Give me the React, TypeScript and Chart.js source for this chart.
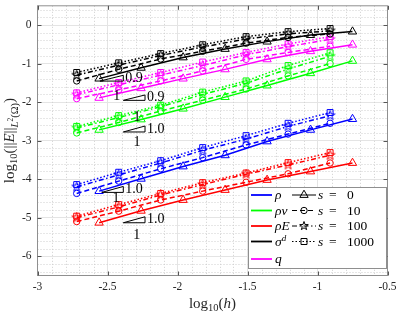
import React, { useEffect, useRef } from 'react';
import { Chart, registerables } from 'chart.js';

Chart.register(...registerables);

// log10(h) for the s = 10, 100, 1000 runs and for the s = 0 runs
const hCoarse = [-2.72, -2.42, -2.12, -1.82, -1.51, -1.21, -0.91];
const hS0 = [-2.56, -2.26, -1.96, -1.66, -1.36, -1.05, -0.75];

// rho
const rhoS0 = [-4.31, -3.99, -3.67, -3.38, -3.02, -2.72, -2.44];
const rhoS10 = [-4.37, -4.05, -3.73, -3.44, -3.11, -2.83, -2.55];
const rhoS100 = [-4.2, -3.89, -3.58, -3.25, -2.96, -2.63, -2.35];
const rhoS1000 = [-4.14, -3.82, -3.52, -3.18, -2.87, -2.55, -2.27];
// rho v
const rhovS0 = [-2.72, -2.45, -2.17, -1.87, -1.57, -1.25, -0.93];
const rhovS10 = [-2.8, -2.53, -2.23, -1.95, -1.66, -1.32, -1.0];
const rhovS100 = [-2.67, -2.4, -2.12, -1.8, -1.51, -1.14, -0.81];
const rhovS1000 = [-2.63, -2.35, -2.08, -1.74, -1.45, -1.05, -0.72];
// rho E
const rhoES0 = [-5.13, -4.82, -4.54, -4.28, -4.02, -3.8, -3.58];
const rhoES10 = [-5.1, -4.83, -4.54, -4.31, -4.08, -3.86, -3.58];
const rhoES100 = [-5.0, -4.72, -4.41, -4.14, -3.87, -3.63, -3.38];
const rhoES1000 = [-4.96, -4.66, -4.37, -4.09, -3.84, -3.57, -3.31];
// sigma^d
const sigS0 = [-1.39, -1.11, -0.84, -0.62, -0.43, -0.26, -0.17];
const sigS10 = [-1.45, -1.15, -0.88, -0.68, -0.47, -0.32, -0.23];
const sigS100 = [-1.3, -1.04, -0.79, -0.57, -0.36, -0.23, -0.15];
const sigS1000 = [-1.23, -0.98, -0.74, -0.51, -0.3, -0.17, -0.09];
// q
const qS0 = [-1.89, -1.64, -1.39, -1.15, -0.89, -0.68, -0.51];
const qS10 = [-1.91, -1.68, -1.45, -1.19, -0.89, -0.71, -0.55];
const qS100 = [-1.81, -1.55, -1.3, -1.05, -0.77, -0.56, -0.37];
const qS1000 = [-1.76, -1.49, -1.23, -0.96, -0.71, -0.49, -0.3];

const fieldNames = ['ρ', 'ρv', 'ρE', 'σ', 'q'];
const fieldColors = ['#0000ff', '#00ff00', '#ff0000', '#000000', '#ff00ff'];
const fieldSeries = [
  [rhoS0, rhoS10, rhoS100, rhoS1000],
  [rhovS0, rhovS10, rhovS100, rhovS1000],
  [rhoES0, rhoES10, rhoES100, rhoES1000],
  [sigS0, sigS10, sigS100, sigS1000],
  [qS0, qS10, qS100, qS1000],
];
const sLabels = ['0', '10', '100', '1000'];

const xTicks = [-3, -2.5, -2, -1.5, -1, -0.5];
const yTicks = [-6, -5, -4, -3, -2, -1, 0];

// slope triangles (anchor, run, rate) and "1" label spots
const slopeX0 = [-2.554, -2.387, -2.387, -2.541, -2.387];
const slopeY0 = [-1.454, -1.954, -2.775, -4.343, -5.131];
const slopeW = [0.167, 0.155, 0.155, 0.154, 0.155];
const slopeRate = [0.9, 0.9, 1.0, 1.0, 1.0];
const slopeText = ['0.9', '0.9', '1.0', '1.0', '1.0'];
const runX = [-2.434, -2.289, -2.289, -2.439, -2.291];
const runY = [-1.86, -2.39, -3.05, -4.49, -5.47];

const SERIF = "'Liberation Serif', 'Times New Roman', serif";

const sStyles = [
  { xs: hS0, style: 'triangle', radius: 4.8, dash: [] as number[] },
  { xs: hCoarse, style: 'circle', radius: 3.2, dash: [5, 3] },
  { xs: hCoarse, style: 'star', radius: 4.5, dash: [5, 2.5, 1.5, 2.5] },
  { xs: hCoarse, style: 'rect', radius: 4.2, dash: [1.5, 2] },
];

function makeStar(color: string) {
  const c = document.createElement('canvas');
  c.width = 11;
  c.height = 11;
  const g = c.getContext('2d')!;
  g.strokeStyle = color;
  g.lineWidth = 1;
  g.beginPath();
  for (let i = 0; i < 10; i++) {
    const r = i % 2 === 0 ? 5 : 2;
    const a = -Math.PI / 2 + (i * Math.PI) / 5;
    const px = 5.5 + r * Math.cos(a);
    const py = 5.5 + r * Math.sin(a);
    if (i === 0) g.moveTo(px, py);
    else g.lineTo(px, py);
  }
  g.closePath();
  g.stroke();
  return c;
}

type Seg = { t: string; size: number; italic?: boolean; dy?: number };
function segFont(s: Seg) {
  return `${s.italic ? 'italic ' : ''}${s.size}px ${SERIF}`;
}
function segsWidth(ctx: CanvasRenderingContext2D, segs: Seg[]) {
  let w = 0;
  for (const s of segs) {
    ctx.font = segFont(s);
    w += ctx.measureText(s.t).width;
  }
  return w;
}
function drawSegs(ctx: CanvasRenderingContext2D, segs: Seg[], x: number, baseline: number) {
  ctx.textAlign = 'left';
  ctx.textBaseline = 'alphabetic';
  for (const s of segs) {
    ctx.font = segFont(s);
    ctx.fillText(s.t, x, baseline + (s.dy || 0));
    x += ctx.measureText(s.t).width;
  }
}

function drawMarker(ctx: CanvasRenderingContext2D, style: string, x: number, y: number) {
  ctx.beginPath();
  if (style === 'triangle') {
    const r = 4.8;
    for (let i = 0; i < 3; i++) {
      const a = (i * 2 * Math.PI) / 3;
      const px = x + Math.sin(a) * r;
      const py = y - Math.cos(a) * r;
      if (i === 0) ctx.moveTo(px, py);
      else ctx.lineTo(px, py);
    }
    ctx.closePath();
  } else if (style === 'circle') {
    ctx.arc(x, y, 3.2, 0, Math.PI * 2);
  } else if (style === 'rect') {
    ctx.rect(x - 3, y - 3, 6, 6);
  } else {
    for (let i = 0; i < 10; i++) {
      const r = i % 2 === 0 ? 4.5 : 1.8;
      const a = -Math.PI / 2 + (i * Math.PI) / 5;
      const px = x + r * Math.cos(a);
      const py = y + r * Math.sin(a);
      if (i === 0) ctx.moveTo(px, py);
      else ctx.lineTo(px, py);
    }
    ctx.closePath();
  }
  ctx.stroke();
}

const decorPlugin = {
  id: 'decor',
  beforeDatasetsDraw(chart: any) {
    const { ctx, chartArea: a, scales } = chart;
    const xs = scales.x;
    const ys = scales.y;
    ctx.save();
    // minor grid
    ctx.strokeStyle = '#cfcfcf';
    ctx.lineWidth = 1;
    ctx.setLineDash([1, 2]);
    for (let k = -30; k <= -5; k++) {
      if (k % 5 === 0) continue;
      const px = Math.round(xs.getPixelForValue(k / 10)) + 0.5;
      ctx.beginPath();
      ctx.moveTo(px, a.top);
      ctx.lineTo(px, a.bottom);
      ctx.stroke();
    }
    for (let k = -32; k <= 2; k++) {
      if (k % 5 === 0) continue;
      const py = Math.round(ys.getPixelForValue(k / 5)) + 0.5;
      ctx.beginPath();
      ctx.moveTo(a.left, py);
      ctx.lineTo(a.right, py);
      ctx.stroke();
    }
    ctx.setLineDash([]);
    // box
    ctx.strokeStyle = '#8f8f8f';
    ctx.strokeRect(a.left, a.top, a.right - a.left, a.bottom - a.top);
    // inner ticks
    ctx.strokeStyle = '#555555';
    for (const v of xTicks) {
      const px = Math.round(xs.getPixelForValue(v)) + 0.5;
      ctx.beginPath();
      ctx.moveTo(px, a.bottom);
      ctx.lineTo(px, a.bottom - 4);
      ctx.moveTo(px, a.top);
      ctx.lineTo(px, a.top + 4);
      ctx.stroke();
    }
    for (const v of yTicks) {
      const py = Math.round(ys.getPixelForValue(v)) + 0.5;
      ctx.beginPath();
      ctx.moveTo(a.left, py);
      ctx.lineTo(a.left + 4, py);
      ctx.moveTo(a.right, py);
      ctx.lineTo(a.right - 4, py);
      ctx.stroke();
    }
    ctx.restore();
  },
  afterDraw(chart: any) {
    const { ctx, chartArea: a, scales } = chart;
    const xs = scales.x;
    const ys = scales.y;
    ctx.save();
    // slope triangles
    ctx.strokeStyle = '#000';
    ctx.fillStyle = '#000';
    ctx.lineWidth = 1;
    for (let i = 0; i < slopeX0.length; i++) {
      const px0 = xs.getPixelForValue(slopeX0[i]);
      const py0 = ys.getPixelForValue(slopeY0[i]);
      const px1 = xs.getPixelForValue(slopeX0[i] + slopeW[i]);
      const py1 = ys.getPixelForValue(slopeY0[i] + slopeRate[i] * slopeW[i]);
      ctx.beginPath();
      ctx.moveTo(px0, py0);
      ctx.lineTo(px1, py0);
      ctx.lineTo(px1, py1);
      ctx.closePath();
      ctx.stroke();
      ctx.font = `14px ${SERIF}`;
      ctx.textAlign = 'left';
      ctx.textBaseline = 'middle';
      ctx.fillText(slopeText[i], px1 + 2, (py0 + py1) / 2);
      ctx.textAlign = 'center';
      ctx.fillText('1', xs.getPixelForValue(runX[i]), ys.getPixelForValue(runY[i]));
    }
    // axis titles
    ctx.fillStyle = '#262626';
    const xt: Seg[] = [
      { t: 'log', size: 15 },
      { t: '10', size: 10.5, dy: 3 },
      { t: '(', size: 15 },
      { t: 'h', size: 15, italic: true },
      { t: ')', size: 15 },
    ];
    const cx = (a.left + a.right) / 2;
    drawSegs(ctx, xt, cx - segsWidth(ctx, xt) / 2, 308);
    const yt: Seg[] = [
      { t: 'log', size: 15 },
      { t: '10', size: 10.5, dy: 3 },
      { t: '(||', size: 15 },
      { t: 'E', size: 15, italic: true },
      { t: '||', size: 15 },
      { t: 'L', size: 10.5, italic: true, dy: 4 },
      { t: '2', size: 7.5, dy: -1 },
      { t: '(Ω)', size: 10.5, dy: 4 },
      { t: ')', size: 15 },
    ];
    ctx.save();
    ctx.translate(14, (a.top + a.bottom) / 2);
    ctx.rotate(-Math.PI / 2);
    drawSegs(ctx, yt, -segsWidth(ctx, yt) / 2, 0);
    ctx.restore();
    // legend
    const lx = 248.5;
    const ly = 187.5;
    const lw = 138;
    const lh = 81;
    ctx.fillStyle = '#ffffff';
    ctx.fillRect(lx, ly, lw, lh);
    ctx.strokeStyle = '#8f8f8f';
    ctx.lineWidth = 1;
    ctx.strokeRect(lx, ly, lw, lh);
    const rows = [195, 210.5, 226, 241.5, 259];
    for (let i = 0; i < fieldNames.length; i++) {
      const y = rows[i];
      ctx.strokeStyle = fieldColors[i];
      ctx.lineWidth = 1.8;
      ctx.beginPath();
      ctx.moveTo(251, y);
      ctx.lineTo(272, y);
      ctx.stroke();
      ctx.fillStyle = '#000';
      const segs: Seg[] = [{ t: fieldNames[i], size: 13.5, italic: true }];
      if (i === 3) segs.push({ t: 'd', size: 9, italic: true, dy: -5 });
      drawSegs(ctx, segs, 275, y + 4);
    }
    for (let j = 0; j < 4; j++) {
      const y = rows[j];
      ctx.strokeStyle = '#000';
      ctx.lineWidth = 1;
      ctx.setLineDash(sStyles[j].dash);
      ctx.beginPath();
      ctx.moveTo(292, y);
      ctx.lineTo(316, y);
      ctx.stroke();
      ctx.setLineDash([]);
      drawMarker(ctx, sStyles[j].style, 304, y);
      ctx.fillStyle = '#000';
      drawSegs(ctx, [{ t: 's', size: 13.5, italic: true }], 318, y + 4);
      drawSegs(ctx, [{ t: '=', size: 13.5 }], 329, y + 4);
      drawSegs(ctx, [{ t: sLabels[j], size: 13.5 }], 347, y + 4);
    }
    ctx.restore();
  },
};

export default function App() {
  const ref = useRef<HTMLCanvasElement>(null);
  useEffect(() => {
    const stars: Record<string, HTMLCanvasElement> = {};
    fieldColors.forEach((c) => (stars[c] = makeStar(c)));
    const datasets: any[] = [];
    fieldSeries.forEach((series, fi) => {
      series.forEach((vals, si) => {
        const st = sStyles[si];
        const color = fieldColors[fi];
        datasets.push({
          label: `${fieldNames[fi]} s=${sLabels[si]}`,
          data: st.xs.map((x, k) => ({ x, y: vals[k] })),
          borderColor: color,
          borderWidth: 1.5,
          borderDash: st.dash,
          pointStyle: st.style === 'star' ? stars[color] : st.style,
          pointRadius: st.radius,
          pointBorderColor: color,
          pointBackgroundColor: 'rgba(0,0,0,0)',
          pointBorderWidth: 1,
          fill: false,
          tension: 0,
        });
      });
    });
    const tickFont = { family: SERIF, size: 11.5 };
    const chart = new Chart(ref.current!, {
      type: 'line',
      data: { datasets },
      options: {
        animation: false,
        responsive: false,
        maintainAspectRatio: false,
        layout: { padding: { left: 0, right: 11.5, top: 0.5, bottom: 0 } },
        plugins: { legend: { display: false }, tooltip: { enabled: false } },
        scales: {
          x: {
            type: 'linear',
            min: -3,
            max: -0.5,
            afterBuildTicks: (s: any) => {
              s.ticks = xTicks.map((v) => ({ value: v }));
            },
            afterFit: (s: any) => {
              s.height = 39.5;
              s.paddingLeft = 0;
              s.paddingRight = 0;
            },
            grid: { color: '#e4e4e4', drawTicks: false, lineWidth: 1 },
            border: { display: false },
            ticks: {
              padding: 5,
              font: tickFont,
              color: '#262626',
              maxRotation: 0,
              autoSkip: false,
              callback: (v: any) => String(v),
            },
          },
          y: {
            type: 'linear',
            min: -6.5,
            max: 0.5,
            afterBuildTicks: (s: any) => {
              s.ticks = yTicks.map((v) => ({ value: v }));
            },
            afterFit: (s: any) => {
              s.width = 37.5;
              s.paddingTop = 0;
              s.paddingBottom = 0;
            },
            grid: { color: '#e4e4e4', drawTicks: false, lineWidth: 1 },
            border: { display: false },
            ticks: {
              padding: 6,
              font: tickFont,
              color: '#262626',
              autoSkip: false,
              callback: (v: any) => String(v),
            },
          },
        },
      } as any,
      plugins: [decorPlugin],
    });
    return () => chart.destroy();
  }, []);
  return (
    <div style={{ position: 'fixed', left: 0, top: 0, width: 399, height: 315, background: '#fff' }}>
      <canvas ref={ref} width={399} height={315} style={{ display: 'block', width: 399, height: 315 }} />
    </div>
  );
}
